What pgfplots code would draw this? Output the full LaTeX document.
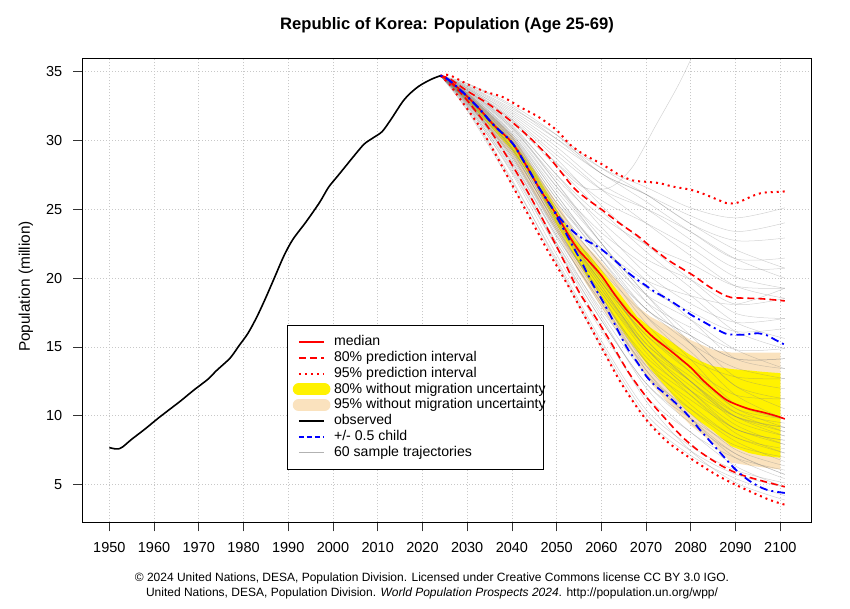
\documentclass[border=0pt]{standalone}
\usepackage{pgfplots}
\pgfplotsset{compat=1.18}
\usepackage{fontspec}
\setmainfont{Liberation Sans}
\definecolor{wheatband}{RGB}{250,226,190}
\definecolor{gridgray}{RGB}{200,200,200}
\begin{document}
\begin{tikzpicture}
\path[use as bounding box] (0pt,0pt) rectangle (850pt,609pt);
\node[anchor=base, font=\bfseries\fontsize{16.6}{20}\selectfont] at (447pt,579pt) {Republic of Korea: Population (Age 25-69)};
\node[rotate=90, font=\fontsize{15.4}{18}\selectfont] at (26pt,322.5pt) {Population (million)};
\node[font=\fontsize{12}{14}\selectfont] at (432pt,31pt) {© 2024 United Nations, DESA, Population Division. Licensed under Creative Commons license CC BY 3.0 IGO.};
\node[font=\fontsize{12}{14}\selectfont] at (432pt,16pt) {United Nations, DESA, Population Division. \textit{World Population Prospects 2024}. http://population.un.org/wpp/};
\begin{axis}[
  at={(82.3pt,86.7pt)}, anchor=south west,
  scale only axis, width=729.5pt, height=463.3pt,
  xmin=1943.96, xmax=2107.04, ymin=2.27, ymax=35.92,
  xtick={1950,1960,...,2100}, ytick={5,10,...,35},
  tick pos=left, tick align=outside,
  major tick length=9pt,
  every tick/.style={black!80, line width=0.8pt},
  axis line style={line width=1pt},
  grid=major, grid style={gridgray, line width=0.8pt, dash pattern=on 1pt off 2pt},
  /pgf/number format/assume math mode=true,
  /pgf/number format/1000 sep={},
  ticklabel style={font=\fontsize{14.5}{17}\selectfont},
  xticklabel style={anchor=base, yshift=-21.4pt, inner sep=0pt},
  yticklabel style={anchor=east, xshift=-10.8pt, inner sep=0pt},
  legend style={
    at={(0.2802,0.4259)}, anchor=north west,
    draw=black, fill=white,
    inner xsep=5.6pt, inner ysep=9.75pt,
    font=\fontsize{14.1}{16}\selectfont,
    row sep=2.3pt, column sep=3.6pt,
    nodes={inner sep=0pt, text height=10.5pt, text depth=3pt},
  },
  every axis legend/.append style={line width=0.9pt},
  legend cell align=left,
  traj/.style={gray, draw opacity=0.35, line width=0.5pt, smooth},
  med/.style={red, line width=1.6pt, smooth},
  pi80/.style={red, line width=1.6pt, dash pattern=on 7pt off 4pt, smooth},
  pi95/.style={red, line width=2pt, dash pattern=on 2pt off 4pt, smooth},
  child/.style={blue, line width=1.8pt, dash pattern=on 2pt off 4pt on 8pt off 4pt, smooth},
]
% 95% without migration uncertainty
\addplot[fill=wheatband, draw=none, forget plot] coordinates {
(2024,34.7)(2030,33.5)(2040,30.4)(2050,25.5)(2055,22.9)(2060,21.2)(2064,19.6)(2068,17.95)(2071,17.2)(2075,16.5)(2080,15.5)(2085,14.8)(2089,14.6)(2094,14.6)(2100,14.6)
(2100,6.1)(2094,6.35)(2089,6.6)(2085,8.0)(2080,9.3)(2075,10.9)(2071,12.4)(2068,14.0)(2064,16.0)(2060,17.9)(2055,20.4)(2050,23.4)(2040,28.9)(2030,32.7)(2024,34.7)} -- cycle;
% 80% without migration uncertainty
\addplot[fill=yellow, draw=none, forget plot] coordinates {
(2024,34.7)(2030,33.3)(2035,31.6)(2040,30.0)(2045,27.8)(2050,25.0)(2054,22.8)(2057,21.8)(2060,20.6)(2064,18.9)(2068,17.2)(2071,16.4)(2074,15.75)(2076,15.3)(2079,14.6)(2082,14.0)(2085,13.6)(2089,13.4)(2093,13.3)(2096,13.2)(2100,13.1)
(2100,6.96)(2096,7.1)(2093,7.3)(2089,7.8)(2085,8.9)(2082,9.6)(2079,10.4)(2076,11.5)(2071,13.4)(2068,14.7)(2064,16.5)(2060,18.7)(2057,20.0)(2054,21.6)(2050,23.9)(2045,27.0)(2040,29.3)(2035,31.1)(2030,32.9)(2024,34.7)} -- cycle;
% 60 sample trajectories
\addplot[traj, forget plot] coordinates {(2024,34.7)(2030,32.26)(2040,27.05)(2050,21.37)(2060,15.45)(2070,10.44)(2080,7.79)(2090,6.05)(2101,5.13)};
\addplot[traj, forget plot] coordinates {(2024,34.7)(2030,32.39)(2040,27.19)(2050,21.2)(2060,15.2)(2070,10.12)(2080,7.45)(2090,5.75)(2101,4.82)};
\addplot[traj, forget plot] coordinates {(2024,34.7)(2030,32.53)(2040,27.61)(2050,21.71)(2060,16.2)(2070,11.4)(2080,8.8)(2090,6.35)(2101,4.82)};
\addplot[traj, forget plot] coordinates {(2024,34.7)(2030,32.62)(2040,27.89)(2050,22.22)(2060,16.45)(2070,11.08)(2080,7.45)(2090,5.15)(2101,3.89)};
\addplot[traj, forget plot] coordinates {(2024,34.7)(2030,32.66)(2040,28.17)(2050,22.39)(2060,16.95)(2070,12.36)(2080,9.8)(2090,7.85)(2101,6.99)};
\addplot[traj, forget plot] coordinates {(2024,34.7)(2030,32.75)(2040,28.31)(2050,22.56)(2060,17.2)(2070,12.04)(2080,8.8)(2090,6.95)(2101,6.06)};
\addplot[traj, forget plot] coordinates {(2024,34.7)(2030,32.8)(2040,28.45)(2050,22.9)(2060,17.45)(2070,13.0)(2080,10.48)(2090,8.45)(2101,7.3)};
\addplot[traj, forget plot] coordinates {(2024,34.7)(2030,32.84)(2040,28.59)(2050,23.07)(2060,18.2)(2070,13.96)(2080,11.48)(2090,9.05)(2101,8.23)};
\addplot[traj, forget plot] coordinates {(2024,34.7)(2030,32.89)(2040,28.73)(2050,23.24)(2060,17.95)(2070,13.0)(2080,9.8)(2090,7.25)(2101,5.75)};
\addplot[traj, forget plot] coordinates {(2024,34.7)(2030,32.93)(2040,28.87)(2050,23.41)(2060,18.45)(2070,14.28)(2080,11.82)(2090,9.95)(2101,9.16)};
\addplot[traj, forget plot] coordinates {(2024,34.7)(2030,32.98)(2040,29.01)(2050,23.58)(2060,18.95)(2070,14.6)(2080,11.48)(2090,8.75)(2101,7.3)};
\addplot[traj, forget plot] coordinates {(2024,34.7)(2030,32.98)(2040,29.15)(2050,23.92)(2060,19.2)(2070,15.24)(2080,12.49)(2090,10.25)(2101,9.47)};
\addplot[traj, forget plot] coordinates {(2024,34.7)(2030,33.02)(2040,29.29)(2050,23.75)(2060,18.7)(2070,13.64)(2080,10.48)(2090,8.15)(2101,6.68)};
\addplot[traj, forget plot] coordinates {(2024,34.7)(2030,33.07)(2040,29.43)(2050,24.09)(2060,19.7)(2070,15.88)(2080,13.5)(2090,11.51)(2101,11.24)};
\addplot[traj, forget plot] coordinates {(2024,34.7)(2030,33.11)(2040,29.43)(2050,24.09)(2060,19.2)(2070,14.92)(2080,11.82)(2090,9.35)(2101,7.92)};
\addplot[traj, forget plot] coordinates {(2024,34.7)(2030,33.11)(2040,29.57)(2050,24.43)(2060,19.95)(2070,16.2)(2080,14.08)(2090,12.83)(2101,12.7)};
\addplot[traj, forget plot] coordinates {(2024,34.7)(2030,33.16)(2040,29.71)(2050,24.26)(2060,19.45)(2070,14.92)(2080,12.16)(2090,9.95)(2101,8.85)};
\addplot[traj, forget plot] coordinates {(2024,34.7)(2030,33.2)(2040,29.85)(2050,24.6)(2060,20.59)(2070,17.24)(2080,14.66)(2090,11.51)(2101,9.78)};
\addplot[traj, forget plot] coordinates {(2024,34.7)(2030,33.2)(2040,29.98)(2050,24.89)(2060,20.2)(2070,15.56)(2080,12.49)(2090,9.65)(2101,8.54)};
\addplot[traj, forget plot] coordinates {(2024,34.7)(2030,33.25)(2040,29.98)(2050,25.18)(2060,21.37)(2070,17.76)(2080,15.82)(2090,14.15)(2101,14.16)};
\addplot[traj, forget plot] coordinates {(2024,34.7)(2030,33.29)(2040,30.11)(2050,24.89)(2060,20.2)(2070,16.2)(2080,13.16)(2090,10.55)(2101,9.16)};
\addplot[traj, forget plot] coordinates {(2024,34.7)(2030,33.29)(2040,30.24)(2050,25.47)(2060,21.76)(2070,18.8)(2080,16.98)(2090,14.81)(2101,13.43)};
\addplot[traj, forget plot] coordinates {(2024,34.7)(2030,33.34)(2040,30.24)(2050,25.76)(2060,21.37)(2070,17.24)(2080,14.08)(2090,10.85)(2101,9.78)};
\addplot[traj, forget plot] coordinates {(2024,34.7)(2030,33.38)(2040,30.37)(2050,25.76)(2060,22.15)(2070,19.32)(2080,17.56)(2090,16.13)(2101,16.35)};
\addplot[traj, forget plot] coordinates {(2024,34.7)(2030,33.43)(2040,30.5)(2050,26.34)(2060,22.54)(2070,18.8)(2080,15.82)(2090,12.83)(2101,11.97)};
\addplot[traj, forget plot] coordinates {(2024,34.7)(2030,33.43)(2040,30.63)(2050,26.63)(2060,23.32)(2070,20.88)(2080,18.72)(2090,16.13)(2101,14.89)};
\addplot[traj, forget plot] coordinates {(2024,34.7)(2030,33.47)(2040,30.76)(2050,26.63)(2060,22.54)(2070,18.28)(2080,15.24)(2090,12.17)(2101,11.24)};
\addplot[traj, forget plot] coordinates {(2024,34.7)(2030,33.52)(2040,30.89)(2050,27.21)(2060,24.1)(2070,21.4)(2080,19.88)(2090,18.11)(2101,18.54)};
\addplot[traj, forget plot] coordinates {(2024,34.7)(2030,33.56)(2040,30.89)(2050,26.92)(2060,22.93)(2070,19.84)(2080,16.98)(2090,14.15)(2101,13.43)};
\addplot[traj, forget plot] coordinates {(2024,34.7)(2030,33.61)(2040,31.15)(2050,27.5)(2060,24.49)(2070,22.44)(2080,21.04)(2090,19.43)(2101,19.27)};
\addplot[traj, forget plot] coordinates {(2024,34.7)(2030,33.65)(2040,31.28)(2050,28.08)(2060,24.88)(2070,21.92)(2080,19.3)(2090,16.79)(2101,15.62)};
\addplot[traj, forget plot] coordinates {(2024,34.7)(2030,33.7)(2040,31.41)(2050,28.37)(2060,25.66)(2070,24.0)(2080,22.2)(2090,20.09)(2101,19.27)};
\addplot[traj, forget plot] coordinates {(2024,34.7)(2030,33.74)(2040,31.54)(2050,28.66)(2060,25.27)(2070,22.44)(2080,19.88)(2090,17.45)(2101,17.08)};
\addplot[traj, forget plot] coordinates {(2024,34.7)(2030,33.79)(2040,31.67)(2050,28.95)(2060,26.44)(2070,25.04)(2080,23.36)(2090,21.41)(2101,20.0)};
\addplot[traj, forget plot] coordinates {(2024,34.7)(2030,33.88)(2040,31.8)(2050,29.24)(2060,26.44)(2070,24.0)(2080,21.62)(2090,19.43)(2101,18.54)};
\addplot[traj, forget plot] coordinates {(2024,34.7)(2030,33.92)(2040,32.06)(2050,29.82)(2060,27.61)(2070,25.56)(2080,23.36)(2090,21.41)(2101,21.46)};
\addplot[traj, forget plot] coordinates {(2024,34.7)(2030,34.01)(2040,32.32)(2050,30.4)(2060,28.0)(2070,26.08)(2080,23.94)(2090,22.07)(2101,20.73)};
\addplot[traj, forget plot] coordinates {(2024,34.7)(2030,34.1)(2040,32.45)(2050,30.11)(2060,27.61)(2070,26.08)(2080,24.52)(2090,23.39)(2101,24.02)};
\addplot[traj, forget plot] coordinates {(2024,34.7)(2030,33.07)(2040,29.29)(2050,23.75)(2060,18.45)(2070,13.32)(2080,9.8)(2090,6.95)(2101,5.44)};
\addplot[traj, forget plot] coordinates {(2024,34.7)(2030,33.16)(2040,29.85)(2050,24.89)(2060,20.98)(2070,16.72)(2080,13.5)(2090,10.55)(2101,9.78)};
\addplot[traj, forget plot] coordinates {(2024,34.7)(2030,33.34)(2040,30.37)(2050,26.05)(2060,21.76)(2070,17.76)(2080,15.82)(2090,14.15)(2101,14.16)};
\addplot[traj, forget plot] coordinates {(2024,34.7)(2030,32.93)(2040,29.15)(2050,23.92)(2060,19.45)(2070,14.92)(2080,11.82)(2090,9.05)(2101,8.23)};
\addplot[traj, forget plot] coordinates {(2024,34.7)(2030,32.71)(2040,28.45)(2050,23.07)(2060,18.2)(2070,13.32)(2080,10.14)(2090,7.55)(2101,6.37)};
\addplot[traj, forget plot] coordinates {(2024,34.7)(2030,32.48)(2040,27.75)(2050,22.22)(2060,16.95)(2070,12.36)(2080,9.47)(2090,7.25)(2101,5.75)};
\addplot[traj, forget plot] coordinates {(2024,34.7)(2030,33.25)(2040,30.11)(2050,25.47)(2060,22.15)(2070,19.84)(2080,18.72)(2090,18.11)(2101,19.27)};
\addplot[traj, forget plot] coordinates {(2024,34.7)(2030,33.65)(2040,31.02)(2050,26.92)(2060,22.54)(2070,18.8)(2080,15.24)(2090,12.17)(2101,10.51)};
\addplot[traj, forget plot] coordinates {(2024,34.7)(2030,32.84)(2040,28.87)(2050,23.58)(2060,18.7)(2070,13.96)(2080,10.81)(2090,8.45)(2101,7.61)};
\addplot[traj, forget plot] coordinates {(2024,34.7)(2030,33.38)(2040,30.24)(2050,25.18)(2060,20.98)(2070,17.76)(2080,15.24)(2090,13.49)(2101,12.7)};
\addplot[traj, forget plot] coordinates {(2024,34.7)(2030,33.02)(2040,29.43)(2050,24.26)(2060,19.7)(2070,15.88)(2080,13.16)(2090,10.85)(2101,9.78)};
\addplot[traj, forget plot] coordinates {(2024,34.7)(2030,33.47)(2040,30.5)(2050,26.05)(2060,21.76)(2070,18.28)(2080,16.4)(2090,14.81)(2101,14.89)};
\addplot[traj, forget plot] coordinates {(2024,34.7)(2030,32.57)(2040,28.03)(2050,22.56)(2060,17.7)(2070,13.64)(2080,11.15)(2090,9.05)(2101,7.92)};
\addplot[traj, forget plot] coordinates {(2024,34.7)(2030,33.2)(2040,29.71)(2050,24.26)(2060,19.7)(2070,15.24)(2080,12.83)(2090,10.25)(2101,8.85)};
\addplot[traj, forget plot] coordinates {(2024,34.7)(2030,33.61)(2040,31.02)(2050,27.5)(2060,23.71)(2070,20.36)(2080,18.14)(2090,16.79)(2101,17.08)};
\addplot[traj, forget plot] coordinates {(2024,34.7)(2030,33.83)(2040,31.93)(2050,29.53)(2060,26.83)(2070,25.04)(2080,22.78)(2090,20.75)(2101,20.73)};
\addplot[traj, forget plot] coordinates {(2024,34.7)(2030,32.17)(2040,26.77)(2050,21.03)(2060,14.95)(2070,9.8)(2080,7.12)(2090,5.45)(2101,4.2)};
\addplot[traj, forget plot] coordinates {(2024,34.7)(2030,34.15)(2040,32.58)(2050,30.4)(2060,27.61)(2070,26.08)(2080,23.94)(2090,22.73)(2101,22.92)};
\addplot[traj, forget plot] coordinates {(2024,34.7)(2030,33.97)(2040,32.19)(2050,30.11)(2060,28.0)(2070,26.6)(2080,25.1)(2090,24.38)(2101,25.11)};
\addplot[traj, forget plot] coordinates {(2024,34.7)(2030,33.29)(2040,29.98)(2050,24.6)(2060,19.95)(2070,15.56)(2080,12.49)(2090,9.95)(2101,9.16)};
\addplot[traj, forget plot] coordinates {(2024,34.7)(2030,32.8)(2040,28.73)(2050,23.41)(2060,18.95)(2070,14.92)(2080,12.49)(2090,9.95)(2101,8.54)};
\addplot[traj, forget plot] coordinates {(2024,34.7)(2030,33.8)(2040,31.5)(2050,28.3)(2056,26.6)(2062,26.6)(2067,28.1)(2072,31.0)(2077,33.9)(2080,35.9)(2085,39.5)};
% 95% prediction interval
\addplot[pi95, forget plot] coordinates {(2024,34.7)(2026,34.75)(2030,34.1)(2034,33.55)(2038,33.15)(2042,32.4)(2046,31.7)(2050,30.75)(2053,29.7)(2056,29.0)(2060,28.3)(2064,27.5)(2067,27.1)(2070,27.0)(2073,26.9)(2076,26.65)(2080,26.42)(2083,26.1)(2086,25.7)(2088,25.45)(2090,25.45)(2092,25.7)(2094,26.0)(2096,26.2)(2098,26.25)(2101,26.3)};
\addplot[pi95, forget plot] coordinates {(2024,34.7)(2026,34.1)(2028,33.2)(2030,32.3)(2033,30.9)(2036,29.2)(2039,27.4)(2042,25.6)(2045,23.8)(2048,22.0)(2050,20.9)(2053,19.2)(2056,17.4)(2060,15.0)(2064,12.6)(2068,10.6)(2071,9.35)(2075,8.05)(2080,6.9)(2085,5.85)(2089,5.15)(2094,4.4)(2098,3.85)(2101,3.55)};
% 80% prediction interval
\addplot[pi80, forget plot] coordinates {(2024,34.7)(2026,34.5)(2030,33.6)(2035,32.6)(2040,31.35)(2044,30.2)(2048,28.9)(2051,27.7)(2054,26.5)(2057,25.7)(2060,25.0)(2064,24.0)(2068,23.1)(2071,22.3)(2075,21.3)(2078,20.7)(2081,20.1)(2084,19.4)(2087,18.85)(2089,18.6)(2092,18.55)(2096,18.5)(2101,18.35)};
\addplot[pi80, forget plot] coordinates {(2024,34.7)(2026,34.3)(2029,33.3)(2032,32.1)(2035,30.8)(2038,29.3)(2041,27.7)(2044,26.0)(2047,24.2)(2050,22.3)(2052,21.0)(2055,19.0)(2059,17.0)(2062,15.4)(2066,13.2)(2070,11.4)(2074,9.9)(2078,8.5)(2082,7.4)(2087,6.35)(2091,5.75)(2096,5.27)(2101,4.85)};
% median
\addplot[med, forget plot] coordinates {(2024,34.7)(2025,34.6)(2027,34.1)(2030,33.2)(2033,32.2)(2036,31.1)(2040,29.85)(2043,28.3)(2046,26.6)(2049,25.1)(2050,24.6)(2051,24.05)(2053,22.95)(2055,22.0)(2057,21.3)(2060,20.2)(2063,18.8)(2066,17.55)(2068,16.9)(2070,16.2)(2072,15.6)(2075,14.85)(2078,14.05)(2080,13.5)(2083,12.5)(2086,11.65)(2088,11.15)(2090,10.85)(2093,10.5)(2096,10.27)(2099,10.0)(2101,9.78)};
% +/- 0.5 child
\addplot[child, forget plot] coordinates {(2024,34.7)(2025,34.6)(2027,34.1)(2030,33.2)(2033,32.2)(2036,31.1)(2040,29.85)(2043,28.3)(2046,26.6)(2049,25.1)(2050,24.65)(2052,23.9)(2055,23.05)(2058,22.5)(2060,22.1)(2063,21.3)(2066,20.4)(2068,19.9)(2070,19.45)(2072,19.0)(2075,18.45)(2078,17.8)(2080,17.35)(2083,16.8)(2086,16.25)(2088,15.95)(2090,15.9)(2092,15.9)(2095,16.0)(2097,15.85)(2099,15.5)(2101,15.17)};
\addplot[child, forget plot] coordinates {(2024,34.7)(2025,34.6)(2027,34.1)(2030,33.2)(2033,32.2)(2036,31.1)(2040,29.85)(2043,28.3)(2046,26.6)(2049,25.1)(2050,24.45)(2052,23.3)(2054,22.1)(2056,20.9)(2058,19.6)(2060,18.5)(2062,17.3)(2064,16.0)(2066,14.8)(2068,13.9)(2070,12.9)(2072,12.2)(2075,11.4)(2078,10.5)(2080,9.8)(2082,9.0)(2085,7.9)(2088,6.8)(2090,6.1)(2093,5.3)(2096,4.75)(2098,4.55)(2101,4.4)};
% observed
\addplot[black, line width=1.6pt, smooth, forget plot] coordinates {(1950,7.7)(1951,7.62)(1952,7.6)(1953,7.75)(1955,8.3)(1958,9.05)(1961,9.85)(1964,10.6)(1966,11.1)(1969,11.9)(1972,12.65)(1974,13.3)(1977,14.2)(1979,15.1)(1981,16.0)(1983,17.2)(1985,18.6)(1987,20.1)(1989,21.6)(1991,22.8)(1994,24.1)(1997,25.5)(1999,26.6)(2001,27.4)(2003,28.2)(2005,29.0)(2007,29.75)(2009,30.2)(2011,30.65)(2013,31.55)(2016,33.0)(2019,33.9)(2022,34.45)(2024,34.7)};
% legend
\addlegendimage{legend image code/.code={\draw[red, line width=1.6pt] (0pt,0pt) -- (25.7pt,0pt);}}
\addlegendentry{\makebox[203.4pt][l]{median}}
\addlegendimage{legend image code/.code={\draw[red, line width=1.6pt, dash pattern=on 7pt off 4pt] (0pt,0pt) -- (25.7pt,0pt);}}
\addlegendentry{\makebox[203.4pt][l]{80\% prediction interval}}
\addlegendimage{legend image code/.code={\draw[red, line width=2pt, dash pattern=on 2pt off 4pt] (0pt,0pt) -- (25.7pt,0pt);}}
\addlegendentry{\makebox[203.4pt][l]{95\% prediction interval}}
\addlegendimage{legend image code/.code={\draw[yellow, line width=12pt, line cap=round] (0pt,0pt) -- (25.7pt,0pt);}}
\addlegendentry{\makebox[203.4pt][l]{80\% without migration uncertainty}}
\addlegendimage{legend image code/.code={\draw[wheatband, line width=12pt, line cap=round] (0pt,0pt) -- (25.7pt,0pt);}}
\addlegendentry{\makebox[203.4pt][l]{95\% without migration uncertainty}}
\addlegendimage{legend image code/.code={\draw[black, line width=1.6pt] (0pt,0pt) -- (25.7pt,0pt);}}
\addlegendentry{\makebox[203.4pt][l]{observed}}
\addlegendimage{legend image code/.code={\draw[blue, line width=1.6pt, dash pattern=on 5pt off 3pt] (0pt,0pt) -- (25.7pt,0pt);}}
\addlegendentry{\makebox[203.4pt][l]{+/- 0.5 child}}
\addlegendimage{legend image code/.code={\draw[gray, draw opacity=0.6, line width=0.6pt] (0pt,0pt) -- (25.7pt,0pt);}}
\addlegendentry{\makebox[203.4pt][l]{60 sample trajectories}}
\end{axis}
\end{tikzpicture}
\end{document}
